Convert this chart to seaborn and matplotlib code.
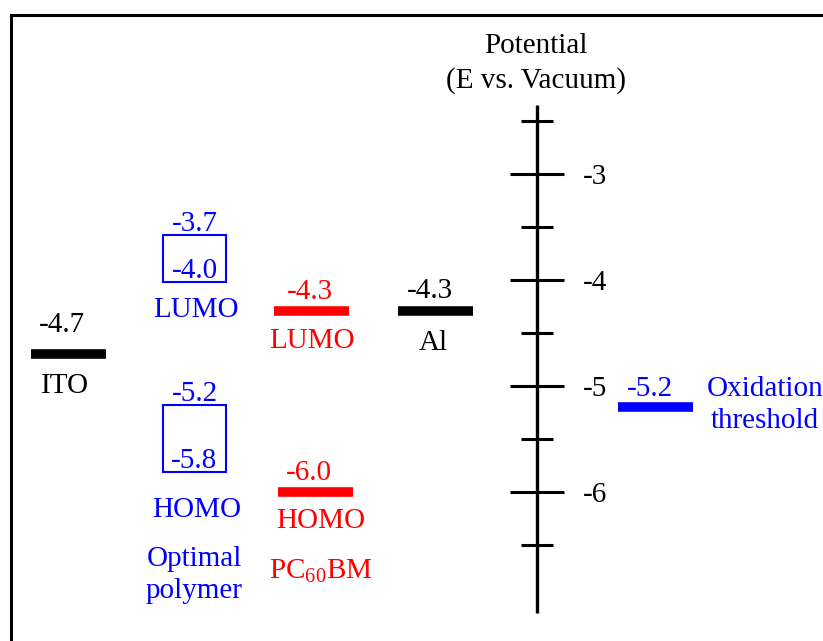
import matplotlib
matplotlib.use("Agg")
import matplotlib.pyplot as plt
import matplotlib.patches as mpatches
import pandas as pd
import seaborn as sns


# energy levels drawn as bars (eV vs. vacuum)
level_names = ["ITO", "PC60BM LUMO", "PC60BM HOMO", "Al", "Oxidation threshold"]
level_values = [-4.7, -4.3, -6.0, -4.3, -5.2]
level_texts = ["-4.7", "-4.3", "-6.0", "-4.3", "-5.2"]
level_captions = ["ITO", "LUMO", "HOMO", "Al", ""]

# optimal polymer ranges, drawn as boxes
box_names = ["LUMO", "HOMO"]
box_low = [-4.0, -5.8]
box_high = [-3.7, -5.2]
box_low_texts = ["-4.0", "-5.8"]
box_high_texts = ["-3.7", "-5.2"]

# potential scale
axis_major = [-3, -4, -5, -6]
axis_minor = [-2.5, -3.5, -4.5, -5.5, -6.5]
axis_ticklabels = ["-3", "-4", "-5", "-6"]
axis_span = [-2.35, -7.15]

# ---- layout / style ----
W, H = 823, 641
PX = 0.72          # points per pixel at dpi 100
FS = 21
bar_centers = [68.5, 311.5, 315.5, 435.5, 655.5]
bar_colors = ["black", "red", "red", "black", "blue"]
text_dx = [-7, -1.5, -7, -6, -5.5]
cap_dx = [-3, 0.5, 5.5, -2, 0]
text_dy = [22, 12, 12, 13, 10.5]
cap_dy = [-39, -37, -36, -39, 0]
BAR_HALF = 37.5
BOX_X0, BOX_X1 = 163, 226
box_cap_dy = [-35, -45]
AXIS_X = 536.5


def main():
    sns.set_theme(style="white")
    plt.rcParams["font.family"] = ["Liberation Serif", "DejaVu Serif"]
    plt.rcParams["mathtext.fontset"] = "custom"
    plt.rcParams["mathtext.rm"] = "Liberation Serif"

    fig = plt.figure(figsize=(W / 100, H / 100), dpi=100)
    ylo, yhi = -7.8, -1.5
    span_px = (yhi - ylo) * 106
    top_px = 14.5
    ax = fig.add_axes([10.5 / W, (H - top_px - span_px) / H, 1.0, span_px / H])
    ax.set_xlim(10.5, 10.5 + W)
    ax.set_ylim(ylo, yhi)

    # level bars
    rows = []
    for name, val, xc in zip(level_names, level_values, bar_centers):
        rows.append({"level": name, "x": xc - BAR_HALF, "E": val})
        rows.append({"level": name, "x": xc + BAR_HALF, "E": val})
    bars = pd.DataFrame(rows)
    sns.lineplot(data=bars, x="x", y="E", hue="level", units="level",
                 estimator=None, sort=False, legend=False, ax=ax,
                 palette=dict(zip(level_names, bar_colors)),
                 linewidth=6.9, solid_capstyle="butt")

    def label(x, y, text, dy, color, ha="center"):
        ax.annotate(text, xy=(x, y), xytext=(0, dy * PX), textcoords="offset points",
                    ha=ha, va="baseline", color=color, fontsize=FS)

    for i, val in enumerate(level_values):
        c = bar_colors[i]
        label(bar_centers[i] + text_dx[i], val, level_texts[i], text_dy[i], c)
        if level_captions[i]:
            label(bar_centers[i] + cap_dx[i], val, level_captions[i], cap_dy[i], c)

    # polymer boxes
    bx = (BOX_X0 + BOX_X1) / 2
    for i in range(len(box_names)):
        bottom = box_low[i] - 0.02
        top = max(box_high[i] + 0.02, box_low[i] + 0.42)
        ax.add_patch(mpatches.Rectangle((BOX_X0, bottom), BOX_X1 - BOX_X0, top - bottom,
                                        fill=False, edgecolor="blue", linewidth=1.5))
        label(bx, top, box_high_texts[i], 4, "blue")
        label(bx, bottom, box_low_texts[i], 4, "blue")
        label(bx + 2, bottom, box_names[i], box_cap_dy[i], "blue")

    # potential scale
    ax.vlines(AXIS_X, axis_span[1], axis_span[0], color="black", linewidth=2.4)
    ax.hlines(axis_major, AXIS_X - 27, AXIS_X + 27, color="black", linewidth=2.2)
    ax.hlines(axis_minor, AXIS_X - 16, AXIS_X + 16, color="black", linewidth=2.2)
    for v, t in zip(axis_major, axis_ticklabels):
        label(583, v, t, -10, "black", ha="left")

    def fig_text(x, y, text, color):
        ax.annotate(text, xy=(x, H - y), xycoords="figure pixels", ha="center",
                    va="baseline", color=color, fontsize=FS)

    fig_text(536, 53, "Potential", "black")
    fig_text(536, 88, "(E vs. Vacuum)", "black")
    fig_text(194, 566, "Optimal", "blue")
    fig_text(194, 598, "polymer", "blue")
    fig_text(321, 578, "PC$_{60}$BM", "red")
    fig_text(765, 395.5, "Oxidation", "blue")
    fig_text(765, 428, "threshold", "blue")

    ax.set_xticks([])
    ax.set_yticks([])
    ax.set_xlabel("")
    ax.set_ylabel("")
    for side in ["right", "bottom"]:
        ax.spines[side].set_visible(False)
    for side in ["left", "top"]:
        ax.spines[side].set_linewidth(2.2)
        ax.spines[side].set_color("black")

    fig.savefig("out.png", dpi=100)


if __name__ == "__main__":
    main()
